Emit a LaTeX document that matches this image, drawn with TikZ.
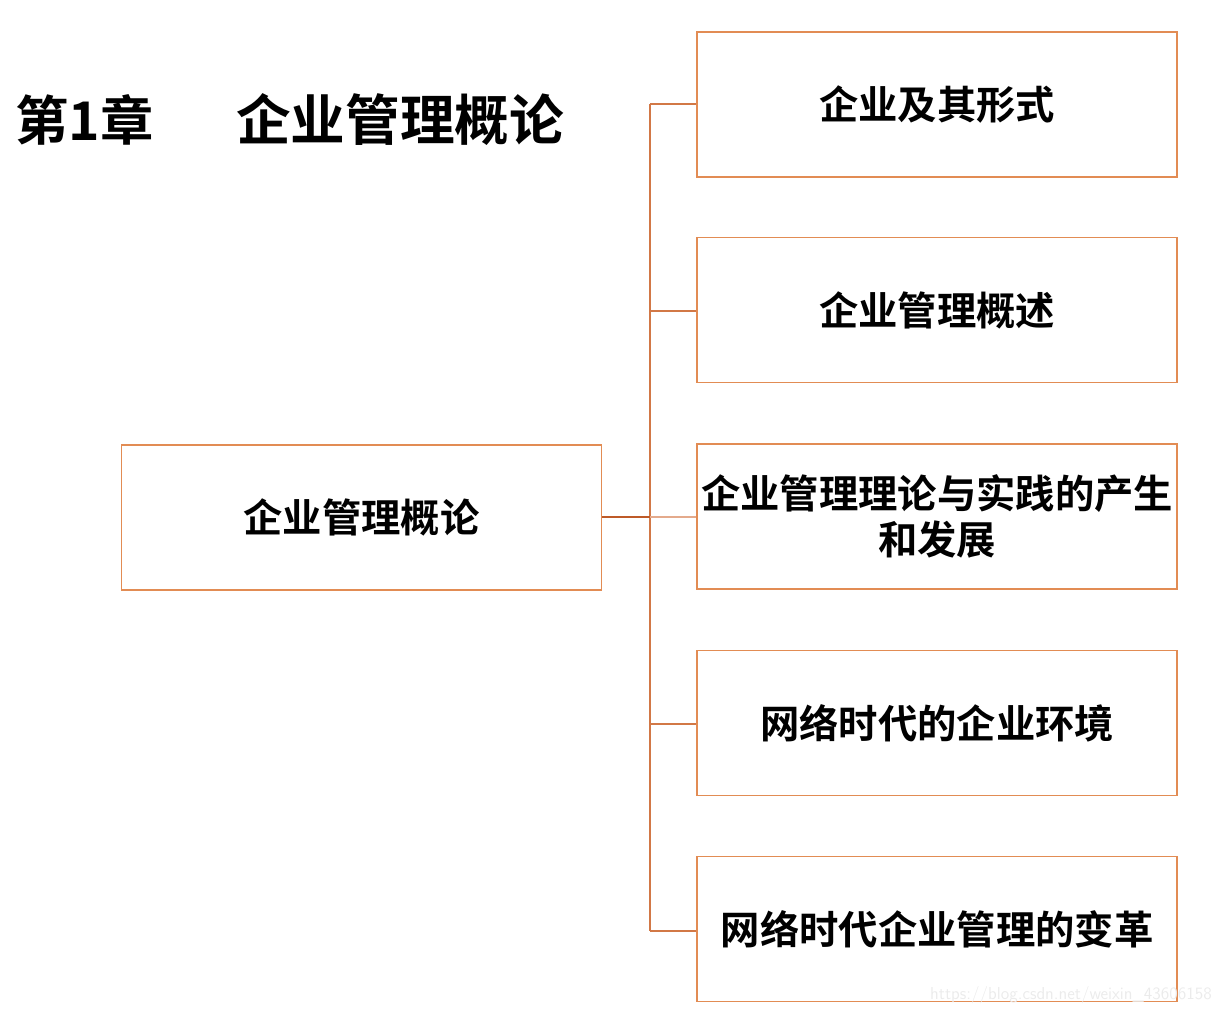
\documentclass[tikz,border=0pt]{standalone}
\usepackage{fontspec}
\newfontfamily\cjk{Noto Sans CJK SC}[BoldFont={Noto Sans CJK SC Bold}]
\definecolor{boxc}{RGB}{226,140,84}
\definecolor{linec}{RGB}{210,120,70}
\definecolor{darkc}{RGB}{190,90,40}
\definecolor{lightc}{RGB}{228,170,140}
\begin{document}
\begin{tikzpicture}[x=0.75pt,y=-0.75pt,
  box/.style={draw=boxc,line width=1.2pt,minimum width=480*0.75pt,minimum height=145*0.75pt,inner sep=0pt,align=center,font=\cjk\bfseries\fontsize{29.5}{35}\selectfont},
  conn/.style={draw=linec,line width=1.4pt}]
\useasboundingbox (0,0) rectangle (1220,1014);
\node[anchor=west,font=\cjk\bfseries\fontsize{40}{44}\selectfont,inner sep=0pt] (t1) at (15,120) {第1章};
\node[anchor=west,font=\cjk\bfseries\fontsize{41}{46}\selectfont,inner sep=0pt] (t2) at (236,120) {企业管理概论};
\node[box] (root) at (361.5,517.5) {企业管理概论};
\node[box] (b1) at (937,104.5) {企业及其形式};
\node[box] (b2) at (937,310) {企业管理概述};
\node[box] (b3) at (937,516.5) {企业管理理论与实践的产生\\和发展};
\node[box] (b4) at (937,723) {网络时代的企业环境};
\node[box] (b5) at (937,929) {网络时代企业管理的变革};
\coordinate (j) at (650,517);
\coordinate (top) at (650,104);
\coordinate (bot) at (650,931);
\draw[conn] (top) -- (bot);
\draw[conn] (top) -- (b1.west |- top);
\draw[conn] (650,311) -- (b2.west |- 0,311);
\draw[conn,draw=lightc] (j) -- (b3.west |- j);
\draw[conn] (650,724) -- (b4.west |- 0,724);
\draw[conn] (bot) -- (b5.west |- bot);
\draw[conn,draw=darkc] (root.east |- j) -- (j);
\node[anchor=east,text=black!8,font=\sffamily\fontsize{13}{15}\selectfont,inner sep=0pt] (wm) at (1212,995) {https://blog.csdn.net/weixin\_43606158};
\end{tikzpicture}
\end{document}
